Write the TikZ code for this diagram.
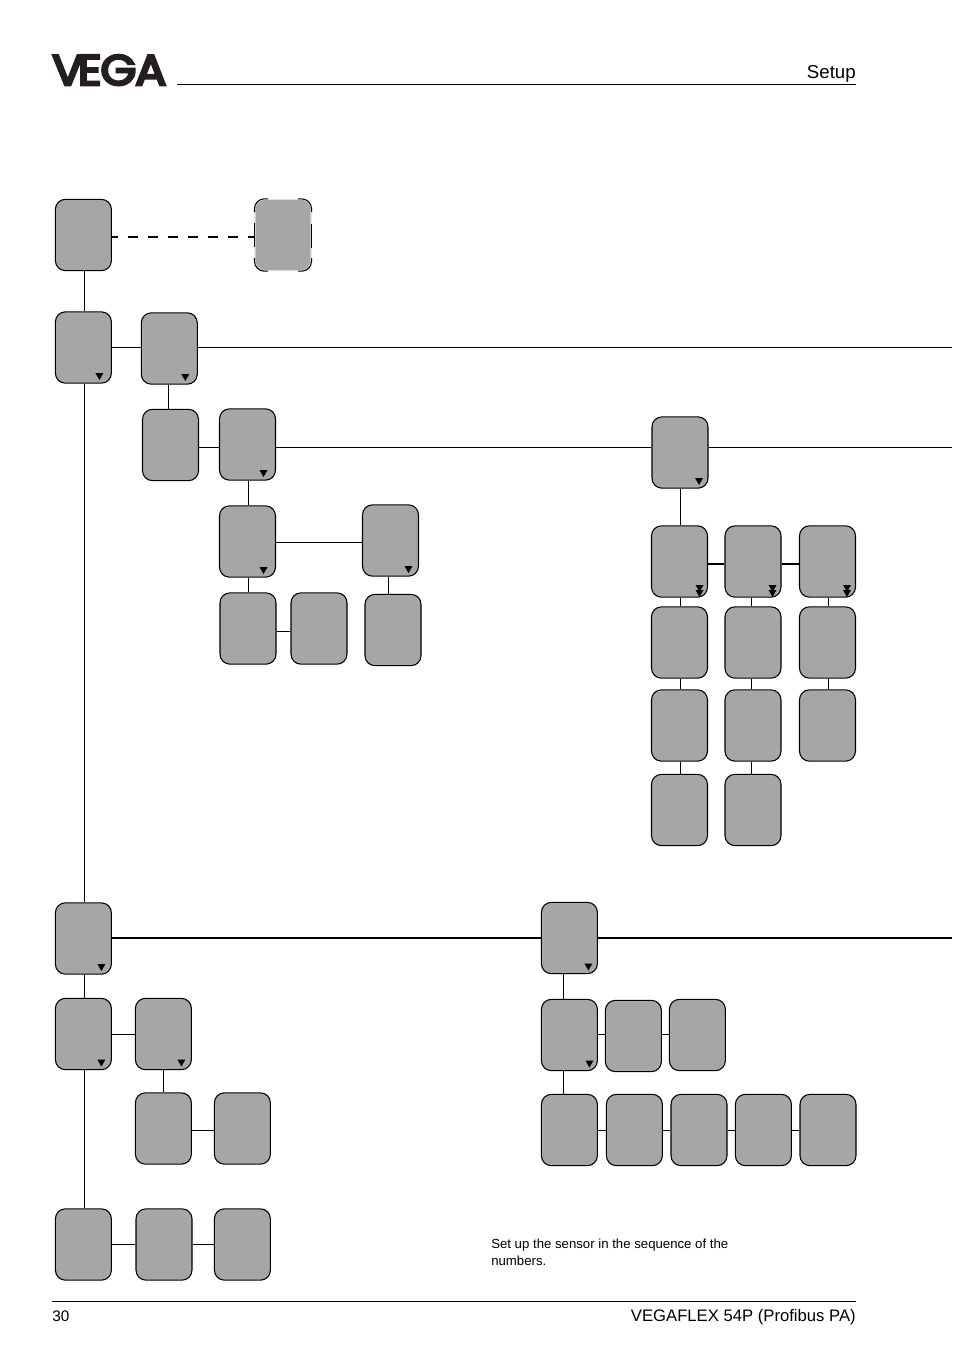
\documentclass[tikz,border=0pt]{standalone}
\usepackage{fontspec}
\setmainfont{Liberation Sans}
\newfontfamily\logofont[FakeBold=6]{Poppins}
\usetikzlibrary{positioning}
\definecolor{boxgray}{HTML}{A6A6A6}
\definecolor{logoblack}{HTML}{231F20}
\tikzset{
    menubox/.style={draw, rectangle, rounded corners=7.5pt, fill=boxgray, line width=0.8pt,
        minimum width=42pt, minimum height=53.5pt, inner sep=0pt},
    conn/.style={line width=0.75pt},
    thickconn/.style={line width=1.5pt},
    altline/.style={line width=0.8pt, rounded corners=7.5pt},
    headline/.style={font=\fontsize{14}{16}\selectfont, inner sep=0pt},
    footline/.style={font=\fontsize{11.5}{14}\selectfont, inner sep=0pt},
}
\begin{document}
\begin{tikzpicture}[x=0.75pt, y=-0.75pt]
    \useasboundingbox (0,0) rectangle (954,1354);

    % page header and footer
    \node[anchor=south west, inner sep=0pt, text=logoblack] (logo) at (52,85.5)
        {\resizebox{85.5pt}{22.5pt}{\logofont V\kern-.12em E\kern-.02em G\kern-.02em A}};
    \node[headline, anchor=base east] (setup) at (856,78) {Setup};
    \coordinate (headA) at (177,84);
    \coordinate (headB) at (856,84);
    \draw[conn] (headA) -- (headB);
    \coordinate (footA) at (52,1301);
    \coordinate (footB) at (856,1301);
    \draw[conn] (footA) -- (footB);
    \node[footline, anchor=base west] (page) at (52,1321) {30};
    \node[footline, anchor=base east, font=\fontsize{12.5}{14}\selectfont] (device) at (856,1321) {VEGAFLEX 54P (Profibus PA)};
    \node[anchor=north west, inner sep=0pt, align=left, font=\fontsize{9.9}{12.75}\selectfont] (note) at (491,1238.5)
        {Set up the sensor in the sequence of the\\numbers.};

    % upper menu
    \node[menubox] (start) at (83.4,235) {};
    \node[menubox, draw=gray!25] (alt) at (283,235) {};
    \node[menubox] (basic) at (83.4,347.5) {};
    \node[menubox] (basicB) at (169.3,348.5) {};
    \node[menubox] (unit) at (170.5,445) {};
    \node[menubox] (unitB) at (247.5,444.5) {};
    \node[menubox] (lin) at (247.5,541.5) {};
    \node[menubox] (linB) at (390.5,540.5) {};
    \node[menubox] (linC) at (248,628.5) {};
    \node[menubox] (linD) at (319,628.5) {};
    \node[menubox] (linE) at (393,630) {};

    % right block
    \node[menubox] (out) at (680,452.5) {};
    \foreach \n/\x in {A/679.5, B/753, C/827.5} {
        \node[menubox] (out\n1) at (\x,561.5) {};
        \node[menubox] (out\n2) at (\x,642.5) {};
        \node[menubox] (out\n3) at (\x,725.5) {};
    }
    \node[menubox] (outA4) at (679.5,810) {};
    \node[menubox] (outB4) at (753,810) {};

    % lower left
    \node[menubox] (disp) at (83.4,938.5) {};
    \node[menubox] (dispA) at (83.4,1034) {};
    \node[menubox] (dispB) at (163.4,1034) {};
    \node[menubox] (dispC) at (163.4,1128.5) {};
    \node[menubox] (dispD) at (242.4,1128.5) {};
    \node[menubox] (resA) at (83.4,1244.5) {};
    \node[menubox] (resB) at (164,1244.5) {};
    \node[menubox] (resC) at (242.4,1244.5) {};

    % lower right
    \node[menubox] (serv) at (569.4,938) {};
    \node[menubox] (servA) at (569.4,1035) {};
    \node[menubox] (servB) at (633.4,1036) {};
    \node[menubox] (servC) at (697.4,1035) {};
    \node[menubox] (rowA) at (569.4,1130) {};
    \node[menubox] (rowB) at (634.4,1130) {};
    \node[menubox] (rowC) at (699,1130) {};
    \node[menubox] (rowD) at (763.4,1130) {};
    \node[menubox] (rowE) at (828,1130) {};

    % dashed box: black only at corners and side middles
    \draw[altline] (alt.west |- 0,212) -- (alt.north west) -- (268,0 |- alt.north);
    \draw[altline] (298,0 |- alt.north) -- (alt.north east) -- (alt.east |- 0,212);
    \draw[altline] (alt.west |- 0,258) -- (alt.south west) -- (268,0 |- alt.south);
    \draw[altline] (298,0 |- alt.south) -- (alt.south east) -- (alt.east |- 0,258);
    \draw[altline] (alt.west |- 0,223) -- (alt.west |- 0,247);
    \draw[altline] (alt.east |- 0,224) -- (alt.east |- 0,248);
    \coordinate (dashA) at (alt.west |- 0,237);
    \draw[line width=1.5pt, dash pattern=on 7.5pt off 7.5pt, dash phase=2.6pt] (start.east |- dashA) -- (dashA);

    % connectors
    \coordinate (endA) at (952,347.5);
    \coordinate (endB) at (952,447);
    \coordinate (endC) at (952,938);
    \draw[conn] (start.south -| 84.3,0) -- (basic.north -| 84.3,0);
    \draw[conn] (basic.south -| 84.3,0) -- (disp.north -| 84.3,0);
    \draw[conn] (disp.south -| 84.3,0) -- (dispA.north -| 84.3,0);
    \draw[conn] (dispA.south -| 84.3,0) -- (resA.north -| 84.3,0);
    \draw[conn] (endA -| basic.east) -- (endA -| basicB.west);
    \draw[conn] (endA -| basicB.east) -- (endA);
    \draw[conn] (basicB.south -| 168.5,0) -- (unit.north -| 168.5,0);
    \draw[conn] (endB -| unit.east) -- (endB -| unitB.west);
    \draw[conn] (endB -| unitB.east) -- (endB -| out.west);
    \draw[conn] (endB -| out.east) -- (endB);
    \draw[conn] (unitB.south -| 248.7,0) -- (lin.north -| 248.7,0);
    \draw[conn] (lin.south -| 248.7,0) -- (linC.north -| 248.7,0);
    \draw[conn] (lin.east |- 0,542.5) -- (linB.west |- 0,542.5);
    \draw[conn] (linB.south -| 388.5,0) -- (linE.north -| 388.5,0);
    \draw[conn] (linC.east |- 0,631) -- (linD.west |- 0,631);

    \draw[conn] (out.south -| 680.3,0) -- (outA1.north -| 680.3,0);
    \draw[thickconn] (outA1.east |- 0,564) -- (outB1.west |- 0,564);
    \draw[thickconn] (outB1.east |- 0,564) -- (outC1.west |- 0,564);
    \foreach \n/\x in {A/680.3, B/751.3, C/828.3} {
        \draw[conn] (out\n1.south -| \x,0) -- (out\n2.north -| \x,0);
        \draw[conn] (out\n2.south -| \x,0) -- (out\n3.north -| \x,0);
    }
    \draw[conn] (outA3.south -| 680.3,0) -- (outA4.north -| 680.3,0);
    \draw[conn] (outB3.south -| 751.3,0) -- (outB4.north -| 751.3,0);

    \draw[thickconn] (endC -| disp.east) -- (endC -| serv.west);
    \draw[thickconn] (endC -| serv.east) -- (endC);
    \draw[conn] (dispA.east) -- (dispB.west);
    \draw[conn] (dispB.south) -- (dispC.north);
    \draw[conn] (dispC.east |- 0,1130) -- (dispD.west |- 0,1130);
    \draw[conn] (resA.east) -- (resB.west);
    \draw[conn] (resB.east) -- (resC.west);

    \draw[conn] (serv.south -| 563,0) -- (servA.north -| 563,0);
    \draw[conn] (servA.south -| 563,0) -- (rowA.north -| 563,0);
    \draw[conn] (servA.east |- 0,1034) -- (servB.west |- 0,1034);
    \draw[conn] (servB.east |- 0,1034) -- (servC.west |- 0,1034);
    \draw[conn] (rowA.east) -- (rowB.west);
    \draw[conn] (rowB.east) -- (rowC.west);
    \draw[conn] (rowC.east) -- (rowD.west);
    \draw[conn] (rowD.east) -- (rowE.west);

    % submenu marks
    \foreach \n/\d in {basic/16, basicB/16, unitB/16, lin/16, linB/18, out/19, disp/18, serv/19, dispA/18, dispB/18, servA/20}
        \fill ([shift={(\d-4,25.5)}]\n.center) -- ++(8,0) -- ++(-4,7) -- cycle;
    \foreach \n/\d in {outA1/20, outB1/19.5, outC1/19.5}
        \foreach \s in {23.5,28.5}
            \fill ([shift={(\d-4,\s)}]\n.center) -- ++(8,0) -- ++(-4,7) -- cycle;
\end{tikzpicture}
\end{document}
